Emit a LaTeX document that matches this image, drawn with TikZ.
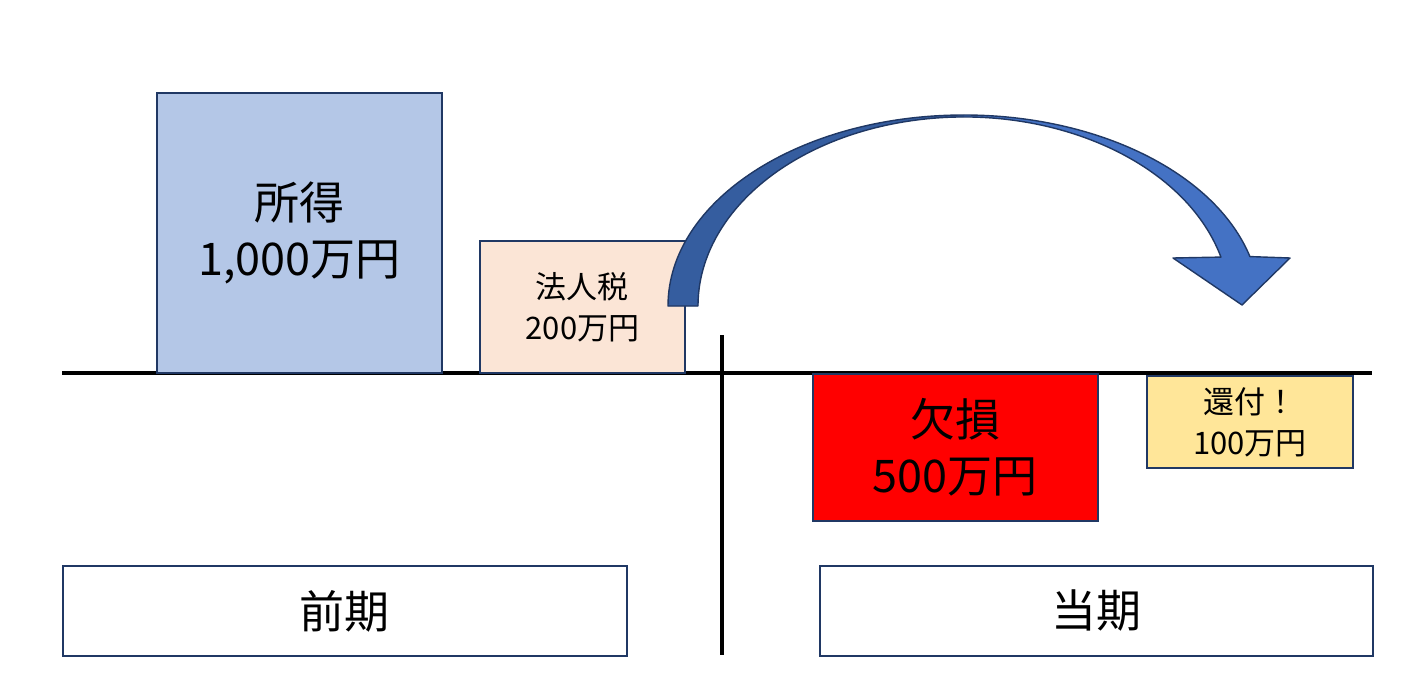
\documentclass[tikz,border=0pt]{standalone}
\usepackage{fontspec}
\setmainfont{Noto Sans CJK JP}
\usepackage{xcolor}
\usetikzlibrary{
    calc,
    positioning
}
\definecolor{navy}{HTML}{203864}
\definecolor{incomeblue}{HTML}{B4C7E7}
\definecolor{taxpeach}{HTML}{FBE5D6}
\definecolor{refundgold}{HTML}{FFE699}
\definecolor{arrowlight}{HTML}{4472C4}
\definecolor{arrowdark}{HTML}{355D9F}
\tikzset{
    box/.style={draw=navy, line width=1.8pt, anchor=north west, align=center, inner sep=0pt},
    bigtext/.style={font=\fontsize{45}{56}\selectfont},
    smalltext/.style={font=\fontsize{31}{41}\selectfont},
    axis/.style={line width=4pt}
}

\begin{document}
\begin{tikzpicture}[x=1pt, y=-1pt]
                        \useasboundingbox (0, 0) rectangle (1416, 687);

                        \coordinate (hl) at (62, 373);
                        \coordinate (hr) at (1372, 373);
                        \coordinate (vt) at (722, 335);
                        \coordinate (vb) at (722, 655);
                        \draw[axis] (hl) -- (hr);
                        \draw[axis] (vt) -- (vb);

                        \begin{scope}
                            \node[box, bigtext, fill=incomeblue, minimum width=285pt, minimum height=280pt] (income) at (156, 92) {所得\\1,000万円};
                            \node[box, smalltext, fill=taxpeach, minimum width=205pt, minimum height=132pt] (tax) at (479, 240) {法人税\\200万円};
                            \node[box, bigtext, fill=red, minimum width=285pt, minimum height=147pt] (loss) at (812, 373) {欠損\\500万円};
                            \node[box, smalltext, fill=refundgold, minimum width=206pt, minimum height=92pt] (refund) at (1146, 375) {還付！\\100万円};
                            \node[box, bigtext, fill=white, minimum width=564pt, minimum height=90pt] (prev) at (62, 565) {前期};
                            \node[box, bigtext, fill=white, minimum width=553pt, minimum height=90pt] (curr) at (819, 565) {当期};
                        \end{scope}

                        % carry back arrow
                        \coordinate (c) at (964, 306);
                        \fill[arrowlight]
                        (668, 306) arc[start angle=180, end angle=345, x radius=296, y radius=191]
                        -- (1290, 258) -- (1242, 305) -- (1173, 258)
                        -- ($(c)+(345:266 and 189)$) arc[start angle=345, end angle=180, x radius=266, y radius=189]
                        -- cycle;
                        \fill[arrowdark]
                        (668, 306) arc[start angle=180, end angle=270, x radius=296, y radius=191]
                        -- ($(c)+(270:266 and 189)$) arc[start angle=270, end angle=180, x radius=266, y radius=189]
                        -- cycle;
                        \draw[navy, line width=1.4pt, line join=round]
                        (668, 306) arc[start angle=180, end angle=345, x radius=296, y radius=191]
                        -- (1290, 258) -- (1242, 305) -- (1173, 258)
                        -- ($(c)+(345:266 and 189)$) arc[start angle=345, end angle=180, x radius=266, y radius=189]
                        -- cycle;
                    \end{tikzpicture}
\end{document}
